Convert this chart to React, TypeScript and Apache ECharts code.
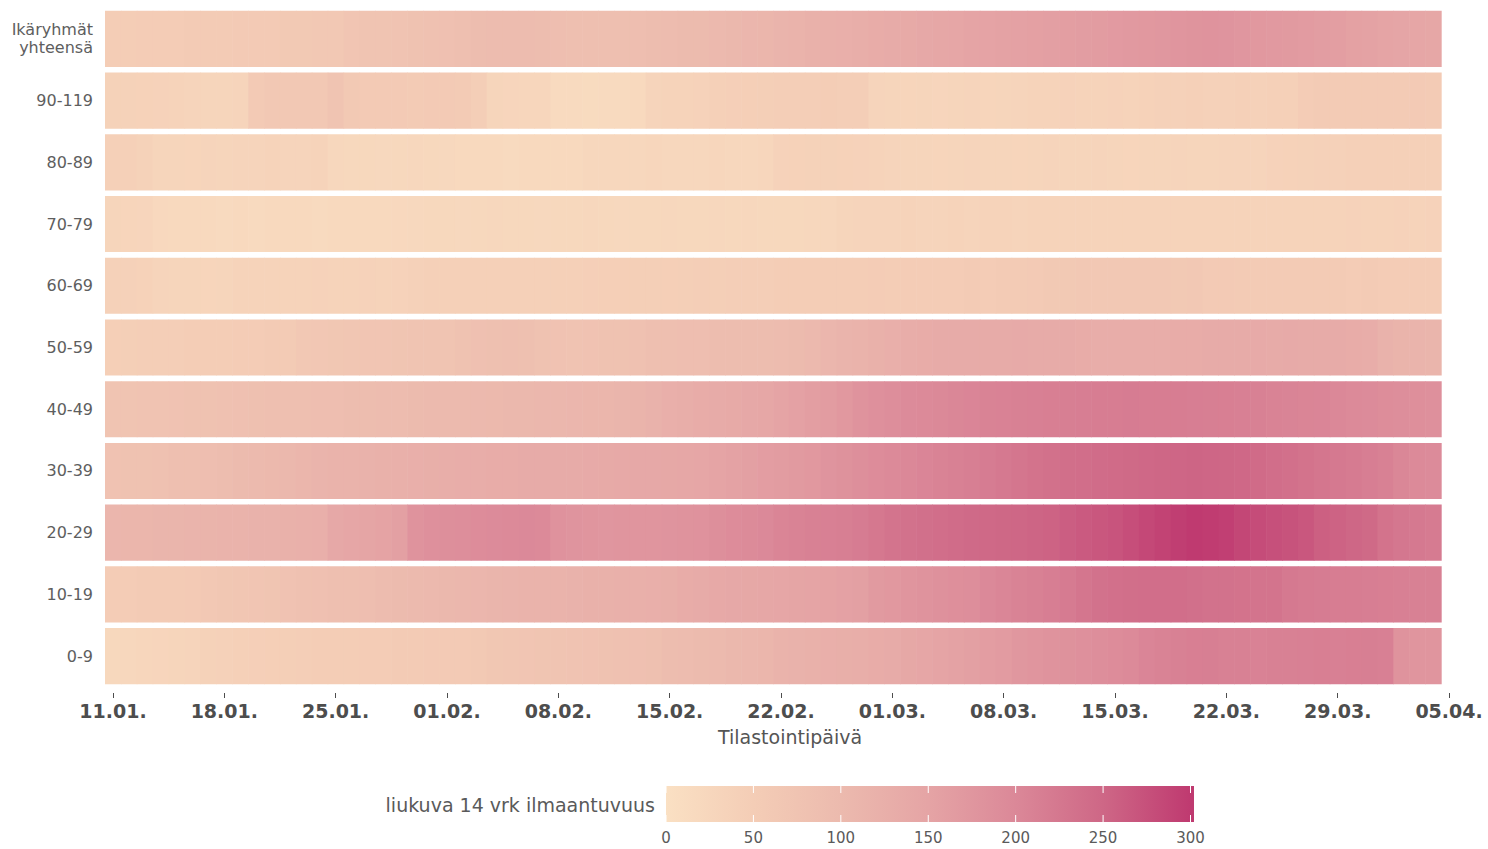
import React, { useEffect, useRef } from "react";
import * as echarts from "echarts";

// ---- categories ----
const MONTH_LENGTHS = [31, 28, 31, 30];
function buildDates(): string[] {
  const out: string[] = [];
  let m = 0;
  let d = 11;
  for (let i = 0; i < 85; i++) {
    out.push(String(d).padStart(2, "0") + "." + String(m + 1).padStart(2, "0") + ".");
    d++;
    if (d > MONTH_LENGTHS[m]) { d = 1; m++; }
  }
  return out;
}
const dates = buildDates(); // 11.01. ... 05.04.

const ageGroups = [
  "0-9", "10-19", "20-29", "30-39", "40-49", "50-59",
  "60-69", "70-79", "80-89", "90-119", "Ikäryhmät\nyhteensä",
];

// ---- series values (14-day incidence, 11.01.–04.04.) ----
const age0_9 = [
  22, 24, 26, 28, 30, 32, 38, 40, 42, 44, 45, 46, 47, 49, 50, 51, 52, 53, 54, 56, 57, 58, 59, 61,
  66, 68, 70, 72, 74, 77, 78, 80, 81, 83, 85, 92, 95, 98, 101, 104, 107, 110, 115, 118, 121, 124,
  126, 128, 131, 134, 142, 146, 150, 154, 158, 162, 166, 173, 177, 180, 183, 186, 189, 192, 196,
  204, 208, 211, 213, 214, 211, 210, 209, 210, 211, 212, 213, 212, 213, 214, 212, 180, 177, 176,
];
const age10_19 = [
  52, 53, 54, 55, 56, 58, 63, 66, 68, 70, 72, 78, 81, 84, 86, 88, 90, 96, 98, 100, 102, 104, 106,
  108, 111, 113, 115, 116, 117, 119, 120, 121, 122, 123, 124, 126, 132, 135, 138, 140, 142, 144,
  146, 148, 150, 152, 155, 158, 168, 172, 176, 180, 184, 187, 190, 198, 203, 207, 211, 215, 220,
  228, 233, 236, 238, 239, 240, 239, 237, 234, 233, 232, 231, 230, 222, 220, 218, 217, 216, 215,
  213, 212, 211, 210,
];
const age20_29 = [
  108, 109, 110, 111, 112, 113, 114, 115, 117, 118, 119, 121, 122, 124, 140, 145, 148, 152, 158,
  180, 185, 188, 190, 192, 194, 196, 198, 197, 182, 178, 176, 175, 176, 177, 176, 178, 180, 182,
  188, 192, 195, 198, 205, 208, 210, 212, 214, 218, 225, 230, 234, 237, 240, 243, 245, 247, 249,
  250, 252, 254, 260, 264, 268, 271, 278, 284, 290, 296, 300, 298, 294, 286, 280, 276, 272, 268,
  258, 254, 250, 246, 232, 226, 222, 220,
];
const age30_39 = [
  78, 79, 80, 82, 86, 88, 90, 92, 98, 100, 103, 105, 110, 113, 115, 117, 119, 120, 122, 124, 126,
  128, 129, 130, 131, 132, 133, 134, 135, 135, 136, 137, 139, 140, 141, 142, 144, 146, 150, 154,
  158, 162, 165, 168, 172, 178, 183, 188, 192, 196, 200, 204, 207, 210, 214, 218, 222, 227, 232,
  235, 238, 240, 242, 244, 246, 248, 250, 251, 252, 251, 250, 248, 244, 240, 236, 232, 228, 223,
  219, 215, 211, 202, 197, 194,
];
const age40_49 = [
  74, 75, 76, 77, 78, 79, 80, 82, 84, 85, 86, 87, 88, 89, 90, 91, 92, 94, 96, 98, 99, 100, 101,
  102, 103, 104, 105, 106, 107, 108, 109, 110, 112, 114, 118, 125, 128, 131, 134, 137, 140, 144,
  150, 155, 160, 165, 172, 180, 185, 190, 194, 197, 199, 202, 204, 207, 209, 211, 212, 213, 214,
  215, 216, 217, 218, 217, 216, 216, 215, 214, 213, 212, 210, 208, 206, 205, 204, 200, 197, 194,
  191, 189, 187, 186,
];
const age50_59 = [
  45, 46, 47, 47, 48, 49, 50, 51, 52, 53, 54, 56, 62, 65, 67, 68, 70, 71, 72, 73, 74, 75, 80, 83,
  85, 86, 85, 80, 78, 77, 78, 79, 80, 81, 86, 88, 89, 90, 91, 92, 92, 93, 95, 98, 102, 108, 113,
  117, 121, 125, 130, 132, 133, 134, 135, 134, 135, 136, 135, 134, 133, 131, 130, 129, 130, 129,
  130, 131, 132, 133, 134, 135, 136, 135, 136, 135, 134, 133, 132, 130, 118, 114, 113, 112,
];
const age60_69 = [
  40, 39, 37, 31, 30, 30, 29, 30, 34, 35, 35, 34, 35, 36, 35, 35, 36, 35, 36, 40, 41, 42, 41, 42,
  43, 42, 42, 43, 42, 43, 44, 45, 45, 46, 46, 45, 46, 47, 46, 47, 47, 48, 49, 50, 50, 51, 50, 51,
  52, 51, 52, 53, 52, 53, 54, 53, 54, 55, 58, 60, 61, 62, 62, 63, 62, 63, 62, 61, 62, 58, 57, 56,
  56, 55, 55, 54, 55, 54, 53, 54, 53, 52, 53, 52,
];
const age70_79 = [
  30, 29, 28, 20, 19, 18, 18, 17, 18, 17, 18, 19, 18, 17, 18, 19, 18, 19, 20, 21, 22, 22, 21, 22,
  23, 22, 22, 21, 22, 22, 23, 22, 21, 22, 22, 23, 22, 22, 23, 22, 23, 22, 22, 22, 23, 24, 30, 31,
  32, 32, 33, 32, 32, 33, 32, 33, 33, 32, 33, 34, 33, 33, 34, 33, 34, 34, 33, 34, 35, 34, 34, 35,
  34, 35, 35, 34, 35, 35, 36, 35, 35, 36, 35, 36,
];
const age80_89 = [
  42, 41, 38, 30, 30, 29, 31, 30, 31, 32, 33, 32, 31, 33, 23, 22, 22, 21, 22, 23, 22, 21, 19, 18,
  18, 17, 18, 19, 18, 18, 24, 25, 24, 25, 26, 25, 24, 25, 26, 25, 24, 26, 36, 37, 38, 38, 37, 36,
  35, 31, 30, 30, 29, 30, 31, 30, 30, 29, 30, 31, 30, 30, 31, 30, 29, 30, 30, 31, 30, 30, 31, 32,
  32, 36, 37, 38, 39, 40, 41, 41, 42, 42, 41, 42,
];
const age90_119 = [
  38, 38, 37, 36, 34, 31, 30, 30, 31, 58, 62, 63, 62, 64, 75, 60, 58, 57, 58, 56, 57, 58, 56, 48,
  30, 28, 27, 26, 17, 15, 14, 15, 16, 18, 32, 35, 35, 36, 42, 44, 45, 46, 48, 48, 47, 49, 48, 47,
  32, 30, 29, 30, 28, 30, 31, 29, 30, 31, 34, 35, 36, 35, 34, 36, 35, 37, 40, 40, 41, 39, 40, 41,
  40, 42, 43, 52, 54, 55, 56, 55, 54, 56, 57, 55,
];
const ageTotal = [
  50, 51, 52, 52, 53, 54, 55, 56, 57, 58, 59, 60, 61, 62, 64, 70, 73, 75, 77, 79, 81, 83, 86, 92,
  94, 96, 95, 91, 89, 88, 88, 87, 88, 89, 91, 95, 97, 98, 102, 105, 108, 110, 113, 117, 120, 123,
  125, 128, 131, 134, 137, 140, 143, 146, 149, 151, 153, 155, 157, 159, 161, 163, 165, 167, 169,
  172, 174, 177, 179, 180, 178, 175, 172, 170, 168, 166, 163, 160, 156, 153, 150, 147, 145, 143,
];

const rowsBottomToTop = [
  age0_9, age10_19, age20_29, age30_39, age40_49, age50_59,
  age60_69, age70_79, age80_89, age90_119, ageTotal,
];

// ---- colour scale / legend ----
const legendTicks = [0, 50, 100, 150, 200, 250, 300];
const paletteColors = ["#fae0c3", "#f4cdb6", "#ecbaae", "#e5a4a5", "#db8898", "#ce6786", "#bf3a70"];
const scaleMin = 0;
const scaleMax = 300;
const legendMax = 302;

export default function App() {
  const ref = useRef<HTMLDivElement>(null);

  useEffect(() => {
    if (!ref.current) return;
    const chart = echarts.init(ref.current, undefined, { renderer: "svg" });

    const data: number[][] = [];
    rowsBottomToTop.forEach((row, r) => {
      row.forEach((v, d) => data.push([d, r, v]));
    });

    const font = "DejaVu Sans";
    const barLeft = 666;
    const barTop = 786;
    const barW = 528;
    const barH = 36;
    const xOf = (v: number) => barLeft + (v / legendMax) * barW;

    const stops = paletteColors.map((c, i) => ({ offset: legendTicks[i] / legendMax, color: c }));
    stops.push({ offset: 1, color: paletteColors[paletteColors.length - 1] });

    const legendGraphics: any[] = [
      {
        type: "rect",
        shape: { x: barLeft, y: barTop, width: barW, height: barH },
        style: {
          fill: new echarts.graphic.LinearGradient(0, 0, 1, 0, stops),
        },
      },
      {
        type: "text",
        x: 655,
        y: barTop + barH / 2 + 1,
        style: {
          text: "liukuva 14 vrk ilmaantuvuus",
          fill: "#5a5a5a",
          font: `19px '${font}'`,
          textAlign: "right",
          textVerticalAlign: "middle",
        },
      },
      {
        type: "text",
        x: 790,
        y: 737,
        style: {
          text: "Tilastointipäivä",
          fill: "#555555",
          font: `19px '${font}'`,
          textAlign: "center",
          textVerticalAlign: "middle",
        },
      },
    ];
    legendTicks.forEach((t) => {
      const x = xOf(t);
      legendGraphics.push(
        { type: "line", shape: { x1: x, y1: barTop, x2: x, y2: barTop + 7 }, style: { stroke: "#ffffff", lineWidth: 1 } },
        { type: "line", shape: { x1: x, y1: barTop + barH - 7, x2: x, y2: barTop + barH }, style: { stroke: "#ffffff", lineWidth: 1 } },
        {
          type: "text",
          x,
          y: 838,
          style: {
            text: String(t),
            fill: "#5a5a5a",
            font: `15px '${font}'`,
            textAlign: "center",
            textVerticalAlign: "middle",
          },
        }
      );
    });

    const gap = 5.6;

    chart.setOption({
      animation: false,
      backgroundColor: "#ffffff",
      grid: { left: 105, top: 8, width: 1352, height: 679, containLabel: false },
      xAxis: {
        type: "category",
        data: dates,
        boundaryGap: true,
        offset: 6,
        axisLine: { show: false },
        axisTick: {
          show: true,
          interval: 6,
          alignWithLabel: true,
          length: 5,
          lineStyle: { color: "#4d4d4d", width: 1 },
        },
        axisLabel: {
          interval: 6,
          margin: 8,
          color: "#4d4d4d",
          fontFamily: font,
          fontWeight: "bold",
          fontSize: 19,
        },
        splitLine: { show: false },
      },
      yAxis: {
        type: "category",
        data: ageGroups,
        axisLine: { show: false },
        axisTick: { show: false },
        axisLabel: {
          margin: 12,
          color: "#5e5e5e",
          fontFamily: font,
          fontSize: 16,
          lineHeight: 18,
          align: "right",
        },
        splitLine: { show: false },
      },
      visualMap: {
        show: false,
        type: "continuous",
        min: scaleMin,
        max: scaleMax,
        dimension: 2,
        seriesIndex: 0,
        inRange: { color: paletteColors },
      },
      series: [
        {
          type: "custom",
          data,
          encode: { x: 0, y: 1 },
          renderItem: (_params: any, api: any) => {
            const c = api.coord([api.value(0), api.value(1)]);
            const s = api.size([1, 1]);
            return {
              type: "rect",
              shape: {
                x: c[0] - s[0] / 2,
                y: c[1] - s[1] / 2 + gap / 2,
                width: s[0] + 0.6,
                height: s[1] - gap,
              },
              style: { fill: api.visual("color") },
            };
          },
        },
      ],
      graphic: legendGraphics,
    });

    return () => chart.dispose();
  }, []);

  return (
    <div
      ref={ref}
      style={{ position: "absolute", left: 0, top: 0, width: 1488, height: 849, background: "#fff" }}
    />
  );
}
